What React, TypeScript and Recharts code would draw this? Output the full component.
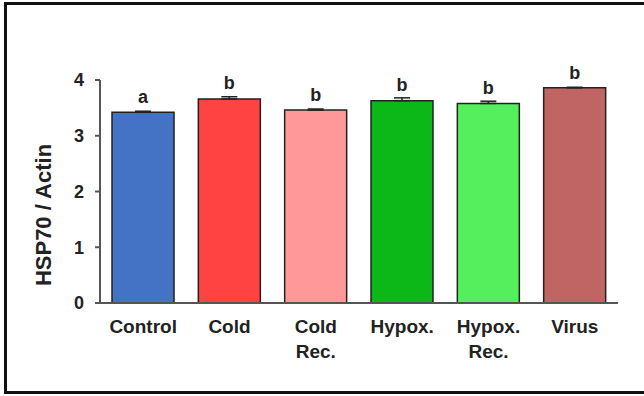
import React from 'react';
import { BarChart, Bar, XAxis, YAxis, Cell, ErrorBar, LabelList } from 'recharts';

const categories = ['Control', 'Cold', 'Cold Rec.', 'Hypox.', 'Hypox. Rec.', 'Virus'];
const values = [3.42, 3.66, 3.46, 3.63, 3.58, 3.86];
const errors = [0.02, 0.04, 0.02, 0.05, 0.04, 0.01];
const letters = ['a', 'b', 'b', 'b', 'b', 'b'];
const colors = ['#4472C4', '#FF4242', '#FF9898', '#0CB718', '#55EE5C', '#C06464'];
const yTicks = [0, 1, 2, 3, 4];

const data = categories.map((c, i) => ({
  name: c,
  value: values[i],
  err: [0, errors[i]],
  letter: letters[i],
}));

const FONT = '"Liberation Sans", Arial, sans-serif';

const XTick = (props: any) => {
  const { x, y, payload } = props;
  const lines = String(payload.value).split(' ');
  return (
    <text x={x} y={y} textAnchor="middle" fontFamily={FONT} fontWeight="bold" fontSize={19} fill="#222">
      {lines.map((l, i) => (
        <tspan key={i} x={x} dy={i === 0 ? 22 : 25}>{l}</tspan>
      ))}
    </text>
  );
};

const LetterLabel = (props: any) => {
  const { x, y, width, index } = props;
  const e = errors[index];
  return (
    <text x={x + width / 2} y={y - 9 - e * 20} textAnchor="middle" fontFamily={FONT} fontWeight="bold" fontSize={18} fill="#222">
      {letters[index]}
    </text>
  );
};

export default function App() {
  return (
    <div style={{ position: 'absolute', left: 0, top: 0, width: 644, height: 396, background: '#fff', overflow: 'hidden' }}>
      <div style={{ position: 'absolute', left: 4, top: 2, width: 640, height: 392, borderTop: '3px solid #111', borderLeft: '3px solid #111', borderBottom: '3px solid #111', boxSizing: 'border-box' }} />
      <div style={{ position: 'absolute', left: 0, top: 0 }}>
        <BarChart width={644} height={396} data={data} margin={{ top: 80, right: 26, bottom: 63, left: 0 }} barSize={62}>
          <YAxis
            width={100}
            domain={[0, 4]}
            ticks={yTicks}
            interval={0}
            tickSize={5}
            tickMargin={11}
            tickLine={{ stroke: '#555', strokeWidth: 2 }}
            axisLine={{ stroke: '#555', strokeWidth: 2 }}
            tick={{ fontFamily: FONT, fontWeight: 'bold', fontSize: 18, fill: '#222' }}
            label={{
              content: () => (
                <text x={43} y={215} transform="rotate(-90 43 215)" textAnchor="middle" dominantBaseline="central" fontFamily={FONT} fontWeight="bold" fontSize={22} fill="#222">
                  HSP70 / Actin
                </text>
              ),
            }}
          />
          <XAxis
            dataKey="name"
            interval={0}
            height={30}
            tickLine={false}
            axisLine={{ stroke: '#555', strokeWidth: 2 }}
            tick={<XTick />}
          />
          <Bar dataKey="value" isAnimationActive={false} stroke="#222" strokeWidth={1.5}>
            {data.map((d, i) => (
              <Cell key={i} fill={colors[i]} />
            ))}
            <ErrorBar dataKey="err" direction="y" width={8} stroke="#222" strokeWidth={1.5} />
            <LabelList dataKey="letter" content={<LetterLabel />} />
          </Bar>
        </BarChart>
      </div>
    </div>
  );
}
